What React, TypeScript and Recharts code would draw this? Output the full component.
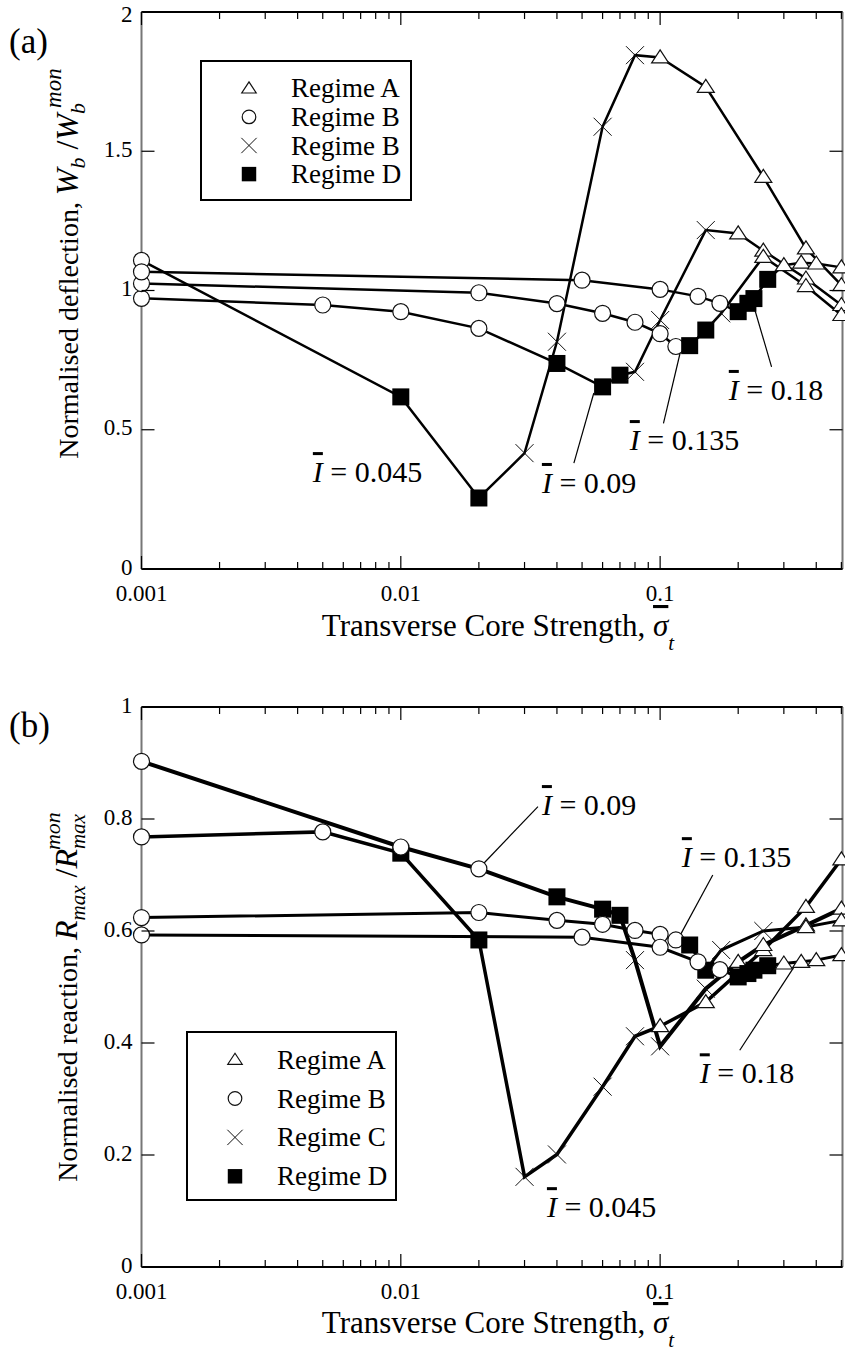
import React from 'react';
import { ScatterChart, Scatter, XAxis, YAxis, ReferenceLine, ReferenceDot, Legend } from 'recharts';

const FONT = '"Liberation Serif", "Times New Roman", Times, serif';

// log x axis: transverse core strength
const sigmaTicks = [
    0.001, 0.002, 0.003, 0.004, 0.005, 0.006, 0.007, 0.008, 0.009,
    0.01, 0.02, 0.03, 0.04, 0.05, 0.06, 0.07, 0.08, 0.09,
    0.1, 0.2, 0.3, 0.4, 0.5,
];
const sigmaLabels = [0.001, 0.01, 0.1];
const sigmaDomain = [0.001, 0.505];

const deflTicks = [0, 0.5, 1, 1.5, 2];
const reactTicks = [0, 0.2, 0.4, 0.6, 0.8, 1];

const legendRegimes = ['A', 'B', 'C', 'D'];
const legendLabelsA = ['Regime A', 'Regime B', 'Regime B', 'Regime D'];
const legendLabelsB = ['Regime A', 'Regime B', 'Regime C', 'Regime D'];

// ---- (a) normalised deflection ----
const sigA045 = [0.001, 0.01, 0.02, 0.03, 0.04, 0.06, 0.08, 0.1, 0.15, 0.25, 0.365, 0.5];
const deflA045 = [1.108, 0.618, 0.255, 0.416, 0.816, 1.588, 1.845, 1.837, 1.731, 1.408, 1.151, 1.019];
const regA045 = ['B', 'D', 'D', 'C', 'C', 'C', 'C', 'A', 'A', 'A', 'A', 'A'];

const sigA09 = [0.001, 0.005, 0.01, 0.02, 0.04, 0.06, 0.07, 0.08, 0.1, 0.15, 0.2, 0.25, 0.365, 0.5];
const deflA09 = [0.972, 0.948, 0.924, 0.864, 0.738, 0.654, 0.696, 0.708, 0.894, 1.217, 1.205, 1.143, 1.043, 0.948];
const regA09 = ['B', 'B', 'B', 'B', 'D', 'D', 'D', 'C', 'C', 'C', 'A', 'A', 'A', 'A'];

const sigA135 = [0.001, 0.02, 0.04, 0.06, 0.08, 0.1, 0.115, 0.13, 0.15, 0.172, 0.25, 0.365, 0.5];
const deflA135 = [1.025, 0.992, 0.953, 0.918, 0.886, 0.845, 0.799, 0.802, 0.858, 0.918, 1.121, 1.016, 0.912];
const regA135 = ['B', 'B', 'B', 'B', 'B', 'B', 'B', 'D', 'D', 'C', 'A', 'A', 'A'];

const sigA18 = [0.001, 0.05, 0.1, 0.14, 0.17, 0.2, 0.218, 0.23, 0.26, 0.3, 0.35, 0.4, 0.5];
const deflA18 = [1.067, 1.037, 1.004, 0.979, 0.954, 0.924, 0.954, 0.971, 1.04, 1.091, 1.1, 1.097, 1.083];
const regA18 = ['B', 'B', 'B', 'B', 'B', 'D', 'D', 'D', 'D', 'A', 'A', 'A', 'A'];

// ---- (b) normalised reaction ----
const sigB045 = [0.001, 0.005, 0.01, 0.02, 0.03, 0.04, 0.06, 0.08, 0.1, 0.15, 0.25, 0.365, 0.5];
const reacB045 = [0.768, 0.777, 0.739, 0.584, 0.161, 0.201, 0.322, 0.412, 0.43, 0.473, 0.566, 0.643, 0.728];
const regB045 = ['B', 'B', 'D', 'D', 'C', 'C', 'C', 'C', 'A', 'A', 'A', 'A', 'A'];

const sigB09 = [0.001, 0.01, 0.02, 0.04, 0.06, 0.07, 0.08, 0.1, 0.15, 0.2, 0.25, 0.365, 0.5];
const reacB09 = [0.903, 0.75, 0.711, 0.661, 0.639, 0.628, 0.548, 0.394, 0.497, 0.545, 0.575, 0.61, 0.64];
const regB09 = ['B', 'B', 'B', 'D', 'D', 'D', 'C', 'C', 'C', 'A', 'A', 'A', 'A'];

const sigB135 = [0.001, 0.02, 0.04, 0.06, 0.08, 0.1, 0.115, 0.13, 0.15, 0.172, 0.25, 0.365, 0.5];
const reacB135 = [0.624, 0.633, 0.619, 0.612, 0.601, 0.594, 0.584, 0.575, 0.53, 0.566, 0.6, 0.607, 0.619];
const regB135 = ['B', 'B', 'B', 'B', 'B', 'B', 'B', 'D', 'D', 'C', 'C', 'A', 'A'];

const sigB18 = [0.001, 0.05, 0.1, 0.14, 0.17, 0.2, 0.218, 0.23, 0.26, 0.3, 0.35, 0.4, 0.5];
const reacB18 = [0.593, 0.589, 0.571, 0.545, 0.531, 0.518, 0.524, 0.53, 0.538, 0.542, 0.545, 0.548, 0.557];
const regB18 = ['B', 'B', 'B', 'B', 'B', 'D', 'D', 'D', 'D', 'A', 'A', 'A', 'A'];

type Pt = { x: number; y: number; regime: string };
const toPoints = (xs: number[], ys: number[], regs: string[]): Pt[] =>
    xs.map((x, i) => ({ x, y: ys[i], regime: regs[i] }));

const deflSeries = [
    { key: '045', points: toPoints(sigA045, deflA045, regA045), width: 2.5 },
    { key: '09', points: toPoints(sigA09, deflA09, regA09), width: 2.5 },
    { key: '135', points: toPoints(sigA135, deflA135, regA135), width: 2.5 },
    { key: '18', points: toPoints(sigA18, deflA18, regA18), width: 2.5 },
];
const reactSeries = [
    { key: '045', points: toPoints(sigB045, reacB045, regB045), width: 3.5 },
    { key: '09', points: toPoints(sigB09, reacB09, regB09), width: 4 },
    { key: '135', points: toPoints(sigB135, reacB135, regB135), width: 3 },
    { key: '18', points: toPoints(sigB18, reacB18, regB18), width: 3 },
];

// annotation text anchors and leader lines (data coordinates)
const deflNotes = [
    { text: '0.045', x: 0.00458, y: 0.312 },
    { text: '0.09', x: 0.035, y: 0.273 },
    { text: '0.135', x: 0.0764, y: 0.427 },
    { text: '0.18', x: 0.184, y: 0.607 },
];
const deflLeaders = [
    [{ x: 0.0555, y: 0.632 }, { x: 0.0465, y: 0.38 }],
    [{ x: 0.121, y: 0.798 }, { x: 0.103, y: 0.523 }],
    [{ x: 0.232, y: 0.93 }, { x: 0.269, y: 0.726 }],
];
const reactNotes = [
    { text: '0.045', x: 0.0366, y: 0.089 },
    { text: '0.09', x: 0.035, y: 0.807 },
    { text: '0.135', x: 0.1213, y: 0.714 },
    { text: '0.18', x: 0.1422, y: 0.328 },
];
const reactLeaders = [
    [{ x: 0.0209, y: 0.721 }, { x: 0.0338, y: 0.822 }],
    [{ x: 0.1187, y: 0.59 }, { x: 0.1596, y: 0.7 }],
    [{ x: 0.3416, y: 0.548 }, { x: 0.2028, y: 0.387 }],
];

const CHART_W = 845;
const PLOT_RIGHT = 842.5;
const AXIS_W = 141.5;

const Marker = ({ cx, cy, regime, s = 1 }: { cx: number; cy: number; regime: string; s?: number }) => {
    if (regime === 'A') {
        return (
            <polygon
                points={`${cx},${cy - 7.5 * s} ${cx + 8.5 * s},${cy + 5.5 * s} ${cx - 8.5 * s},${cy + 5.5 * s}`}
                fill="#fff" stroke="#111" strokeWidth={1.2}
            />
        );
    }
    if (regime === 'B') {
        return <circle cx={cx} cy={cy} r={8 * s} fill="#fff" stroke="#111" strokeWidth={1.2} />;
    }
    if (regime === 'C') {
        return (
            <g stroke="#111" strokeWidth={1}>
                <line x1={cx - 9 * s} y1={cy - 9 * s} x2={cx + 9 * s} y2={cy + 9 * s} />
                <line x1={cx - 9 * s} y1={cy + 9 * s} x2={cx + 9 * s} y2={cy - 9 * s} />
            </g>
        );
    }
    return <rect x={cx - 8.5 * s} y={cy - 8.5 * s} width={17 * s} height={17 * s} fill="#000" />;
};

const noShape = () => <g />;
const markerShape = (p: any) => (
    <Marker cx={p.cx} cy={p.cy} regime={p.payload ? p.payload.regime : p.regime} />
);

const XTick = (p: any) => {
    const { x, y, payload, plotTop, labelDy } = p;
    const v = payload.value;
    const major = sigmaLabels.includes(v);
    const len = major ? 13 : 7;
    return (
        <g>
            <line x1={x} x2={x} y1={y} y2={y - len} stroke="#000" strokeWidth={1.2} />
            <line x1={x} x2={x} y1={plotTop} y2={plotTop + len} stroke="#000" strokeWidth={1.2} />
            {major ? (
                <text x={x} y={y + labelDy} textAnchor="middle" fontFamily={FONT} fontSize={23} fill="#000">
                    {String(v)}
                </text>
            ) : null}
        </g>
    );
};

const YTick = (p: any) => {
    const { x, y, payload } = p;
    // keep the top label inside the picture
    const ty = Math.max(y + 5.5, 22);
    return (
        <g>
            <line x1={x} x2={x + 13} y1={y} y2={y} stroke="#000" strokeWidth={1.2} />
            <line x1={PLOT_RIGHT} x2={PLOT_RIGHT - 13} y1={y} y2={y} stroke="#000" strokeWidth={1.2} />
            <text x={x - 9} y={ty} textAnchor="end" fontFamily={FONT} fontSize={23} fill="#000">
                {String(payload.value)}
            </text>
        </g>
    );
};

const XTitle = (p: any, dy: number) => {
    const vb = p.viewBox;
    const cx = vb.x + vb.width / 2 + 6;
    return (
        <text x={cx} y={vb.y + dy} textAnchor="middle" fontFamily={FONT} fontSize={31} fill="#000">
            {'Transverse Core Strength, '}
            <tspan fontStyle="italic" style={{ textDecoration: 'overline' }}>σ</tspan>
            <tspan fontStyle="italic" fontSize={21} dy={14}>t</tspan>
        </text>
    );
};

const noteLabel = (text: string) => (p: any) => {
    const vb = p.viewBox;
    return (
        <text x={vb.x} y={vb.y} fontFamily={FONT} fontSize={30} fill="#000">
            <tspan fontStyle="italic" style={{ textDecoration: 'overline' }}>I</tspan>
            {` = ${text}`}
        </text>
    );
};

const RegimeLegend = ({ labels, width, height, firstRow, rowGap }: any) => (
    <svg width={width} height={height} style={{ display: 'block' }}>
        <rect x={1} y={1} width={width - 2} height={height - 2} fill="#fff" stroke="#000" strokeWidth={2} />
        {labels.map((l: string, i: number) => {
            const cy = firstRow + i * rowGap;
            return (
                <g key={i}>
                    <Marker cx={49} cy={cy} regime={legendRegimes[i]} s={0.85} />
                    <text x={91} y={cy + 9} fontFamily={FONT} fontSize={27} fill="#000">{l}</text>
                </g>
            );
        })}
    </svg>
);

function Panel(props: any) {
    const {
        height, top, xAxisHeight, yDomain, yTicks, series, notes, leaders,
        legend, tickLabelDy, titleDy, yTitle,
    } = props;
    return (
        <ScatterChart
            width={CHART_W}
            height={height}
            margin={{ top, right: CHART_W - PLOT_RIGHT, bottom: 0, left: 0 }}
        >
            <XAxis
                dataKey="x"
                type="number"
                scale="log"
                domain={sigmaDomain}
                ticks={sigmaTicks}
                interval={0}
                height={xAxisHeight}
                tickSize={0}
                tickMargin={0}
                tickLine={false}
                axisLine={{ stroke: '#000', strokeWidth: 2 }}
                tick={(p: any) => <XTick {...p} plotTop={top} labelDy={tickLabelDy} />}
                label={(p: any) => XTitle(p, titleDy)}
            />
            <YAxis
                dataKey="y"
                type="number"
                domain={yDomain}
                ticks={yTicks}
                interval={0}
                width={AXIS_W}
                tickSize={0}
                tickMargin={0}
                tickLine={false}
                axisLine={{ stroke: '#777', strokeWidth: 2 }}
                tick={(p: any) => <YTick {...p} />}
                label={yTitle}
            />
            <ReferenceLine y={yDomain[1]} stroke="#000" strokeWidth={2} />
            <ReferenceLine x={sigmaDomain[1]} stroke="#777" strokeWidth={2} />
            {leaders.map((seg: any, i: number) => (
                <ReferenceLine key={`ld${i}`} segment={seg} stroke="#000" strokeWidth={1.2} />
            ))}
            {series.map((s: any) => (
                <Scatter
                    key={`line${s.key}`}
                    data={s.points}
                    line={{ stroke: '#000', strokeWidth: s.width }}
                    shape={noShape}
                    isAnimationActive={false}
                />
            ))}
            {series.map((s: any) => (
                <Scatter key={`mk${s.key}`} data={s.points} shape={markerShape} isAnimationActive={false} />
            ))}
            {notes.map((n: any, i: number) => (
                <ReferenceDot key={`nt${i}`} x={n.x} y={n.y} r={0} fill="none" stroke="none" label={noteLabel(n.text)} />
            ))}
            <Legend
                layout="vertical"
                align="center"
                verticalAlign="middle"
                wrapperStyle={{ left: legend.left, top: legend.top, width: legend.width, height: legend.height }}
                content={() => <RegimeLegend {...legend} />}
            />
        </ScatterChart>
    );
}

const deflTitle = (p: any) => {
    const vb = p.viewBox;
    const cy = vb.y + vb.height / 2 - 27;
    return (
        <g>
            <text x={9} y={53} fontFamily={FONT} fontSize={35} fill="#000">(a)</text>
            <text transform={`translate(78,${cy}) rotate(-90)`} textAnchor="middle" fontFamily={FONT} fontSize={28} fill="#000">
                {'Normalised deflection, '}
                <tspan fontStyle="italic" fontSize={32}>W</tspan>
                <tspan fontStyle="italic" fontSize={22} dy={7}>b</tspan>
                <tspan dy={-7} fontSize={32}>{' /'}</tspan>
                <tspan fontStyle="italic" fontSize={32}>W</tspan>
                <tspan fontStyle="italic" fontSize={22} dy={7}>b</tspan>
                <tspan fontStyle="italic" fontSize={23} dx={-5} dy={-24}>mon</tspan>
            </text>
        </g>
    );
};

const reactTitle = (p: any) => {
    const vb = p.viewBox;
    const cy = vb.y + vb.height / 2 + 10;
    return (
        <g>
            <text x={9} y={77} fontFamily={FONT} fontSize={35} fill="#000">(b)</text>
            <text transform={`translate(77,${cy}) rotate(-90)`} textAnchor="middle" fontFamily={FONT} fontSize={28} fill="#000">
                {'Normalised reaction, '}
                <tspan fontStyle="italic" fontSize={32}>R</tspan>
                <tspan fontStyle="italic" fontSize={21} dy={8}>max</tspan>
                <tspan dy={-8} fontSize={32}>{' /'}</tspan>
                <tspan fontStyle="italic" fontSize={32}>R</tspan>
                <tspan fontStyle="italic" fontSize={21} dy={8}>max</tspan>
                <tspan fontStyle="italic" fontSize={22} dx={-36} dy={-25}>mon</tspan>
            </text>
        </g>
    );
};

export default function App() {
    return (
        <div style={{ position: 'absolute', left: 0, top: 0, width: 845, height: 1351, background: '#fff' }}>
            <div style={{ position: 'absolute', left: 0, top: 0 }}>
                <Panel
                    height={660}
                    top={12}
                    xAxisHeight={91}
                    yDomain={[0, 2]}
                    yTicks={deflTicks}
                    series={deflSeries}
                    notes={deflNotes}
                    leaders={deflLeaders}
                    tickLabelDy={32}
                    titleDy={67}
                    yTitle={deflTitle}
                    legend={{ left: 200, top: 60, width: 212, height: 141, labels: legendLabelsA, firstRow: 28.3, rowGap: 28.6 }}
                />
            </div>
            <div style={{ position: 'absolute', left: 0, top: 660 }}>
                <Panel
                    height={691}
                    top={47}
                    xAxisHeight={84}
                    yDomain={[0, 1]}
                    yTicks={reactTicks}
                    series={reactSeries}
                    notes={reactNotes}
                    leaders={reactLeaders}
                    tickLabelDy={32}
                    titleDy={66}
                    yTitle={reactTitle}
                    legend={{ left: 186, top: 371, width: 211, height: 170, labels: legendLabelsB, firstRow: 28.6, rowGap: 38.9 }}
                />
            </div>
        </div>
    );
}
